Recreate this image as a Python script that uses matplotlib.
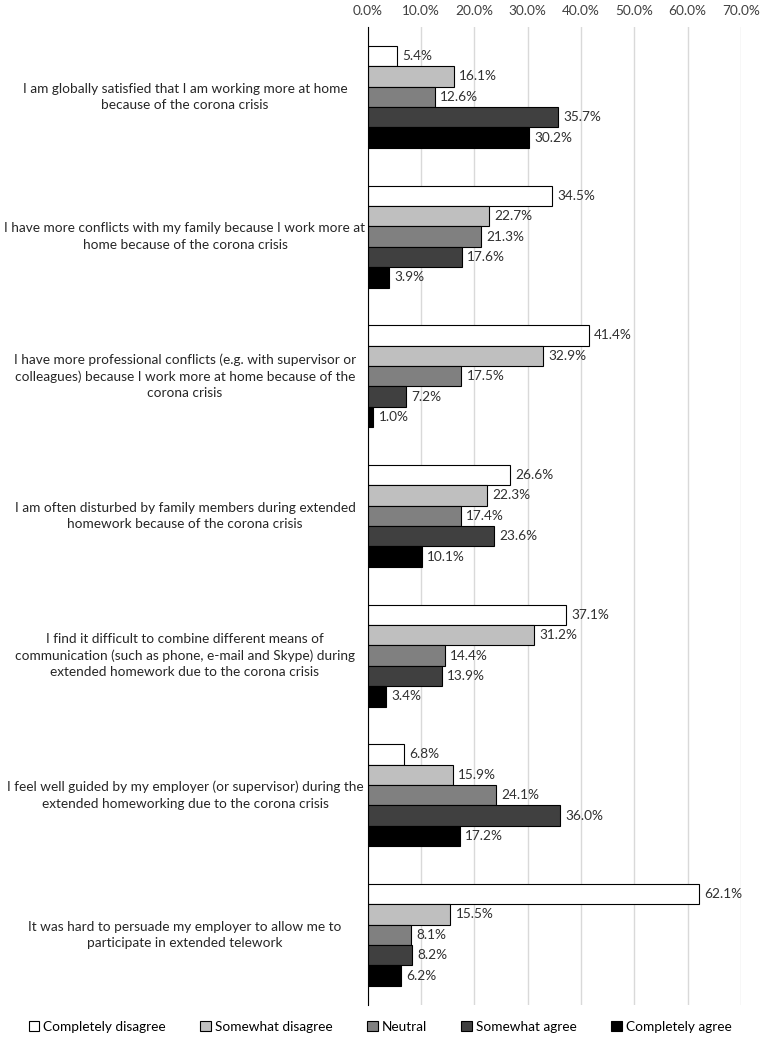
import numpy as np
import matplotlib
matplotlib.use("Agg")
import matplotlib.pyplot as plt
from matplotlib.transforms import blended_transform_factory

plt.rcParams["font.family"] = ["Lato", "DejaVu Sans"]

# DATA
statements = [
    "I am globally satisfied that I am working more at home\nbecause of the corona crisis",
    "I have more conflicts with my family because I work more at\nhome because of the corona crisis",
    "I have more professional conflicts (e.g. with supervisor or\ncolleagues) because I work more at home because of the\ncorona crisis",
    "I am often disturbed by family members during extended\nhomework because of the corona crisis",
    "I find it difficult to combine different means of\ncommunication (such as phone, e-mail and Skype) during\nextended homework due to the corona crisis",
    "I feel well guided by my employer (or supervisor) during the\nextended homeworking due to the corona crisis",
    "It was hard to persuade my employer to allow me to\nparticipate in extended telework",
]

series_names = ["Completely disagree", "Somewhat disagree", "Neutral",
                "Somewhat agree", "Completely agree"]

completely_disagree = [5.4, 34.5, 41.4, 26.6, 37.1, 6.8, 62.1]
somewhat_disagree = [16.1, 22.7, 32.9, 22.3, 31.2, 15.9, 15.5]
neutral = [12.6, 21.3, 17.5, 17.4, 14.4, 24.1, 8.1]
somewhat_agree = [35.7, 17.6, 7.2, 23.6, 13.9, 36.0, 8.2]
completely_agree = [30.2, 3.9, 1.0, 10.1, 3.4, 17.2, 6.2]

x_ticks = [0, 10, 20, 30, 40, 50, 60, 70]

values = [completely_disagree, somewhat_disagree, neutral,
          somewhat_agree, completely_agree]
colors = ["#ffffff", "#bfbfbf", "#808080", "#404040", "#000000"]

FS = 9.8

fig = plt.figure(figsize=(7.6, 10.39), dpi=100)
ax = fig.add_axes([0.484, 0.033, 0.491, 0.941])

n = len(statements)
bar_h = 0.146
y_centers = np.arange(n)

for i, (name, vals, col) in enumerate(zip(series_names, values, colors)):
    y = y_centers + (i - 2) * bar_h
    ax.barh(y, vals, height=bar_h, color=col, edgecolor="black",
            linewidth=0.8, label=name, zorder=3)
    for yy, v in zip(y, vals):
        ax.text(v + 1.0, yy, f"{v:.1f}%", va="center", ha="left",
                fontsize=FS, color="#303030", zorder=4)

ax.set_ylim(n - 0.5, -0.5)
ax.set_xlim(0, 70)
ax.set_xticks(x_ticks)
ax.set_xticklabels([f"{t:.1f}%" for t in x_ticks], fontsize=FS, color="#404040")
ax.xaxis.tick_top()
ax.tick_params(axis="x", length=0, pad=7)
ax.set_yticks([])

# category labels centred in the left margin
trans = blended_transform_factory(ax.transAxes, ax.transData)
for yc, s in zip(y_centers, statements):
    ax.text(-0.49, yc, s, transform=trans, ha="center", va="center",
            multialignment="center", fontsize=FS, color="#262626",
            linespacing=1.45)

ax.grid(axis="x", color="#d9d9d9", linewidth=1, zorder=0)
for s in ["top", "right", "bottom"]:
    ax.spines[s].set_visible(False)
ax.spines["left"].set_color("black")
ax.spines["left"].set_linewidth(0.8)
ax.spines["left"].set_zorder(5)

fig.legend(loc="lower center", bbox_to_anchor=(0.5, -0.006), ncol=5,
           frameon=False, fontsize=FS, handlelength=0.8, handleheight=0.8,
           handletextpad=0.3, columnspacing=2.5)

fig.savefig("out.png", dpi=100)
